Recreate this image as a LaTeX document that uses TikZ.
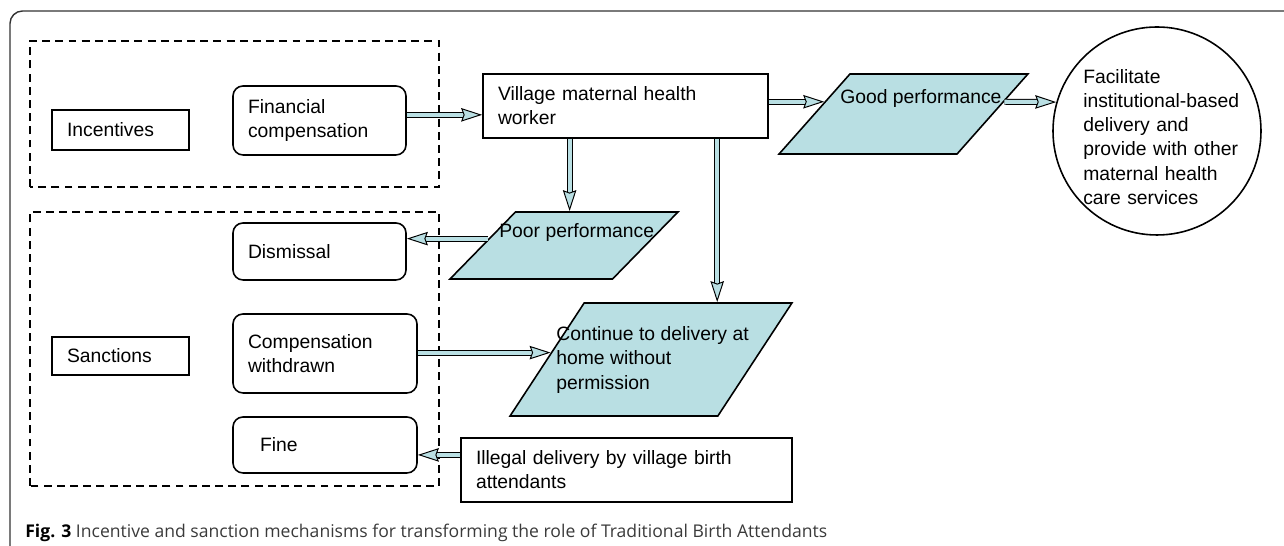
\documentclass[tikz,border=0pt]{standalone}
\usepackage{fontspec}
\setmainfont{Liberation Sans}
\newfontfamily\capfont{Open Sans}
\usetikzlibrary{arrows.meta,positioning,shapes.geometric,calc,decorations.markings}
\definecolor{pb}{HTML}{B9DFE3}
\definecolor{fr}{HTML}{333333}
\definecolor{cg}{HTML}{3A3A3A}

\begin{document}
\begin{tikzpicture}[
  box/.style={draw, line width=0.9pt, inner xsep=0.3cm, inner ysep=0pt, align=left, font=\fontsize{11}{13.7}\selectfont},
  rbox/.style={box, rounded corners=0.2cm},
  para/.style={trapezium, draw, fill=pb, line width=0.9pt, trapezium stretches=true, inner sep=2pt},
  txt/.style={align=left, inner sep=0pt, font=\fontsize{11}{13.7}\selectfont},
  fat/.style={line width=0.55pt, double=pb, double distance=2.3pt, shorten >=0.34cm,
    postaction={decorate, decoration={markings, mark=at position -0.05pt with {\arrow{Stealth[length=0.42cm, width=0.27cm, inset=0.05cm, line width=0.55pt, color=black, fill=pb]}}}}},
  grp/.style={draw, line width=0.9pt, dash pattern=on 4.5pt off 3pt}
]
\useasboundingbox (0,0) rectangle (25.68,10.92);
\draw[fr, line width=0.8pt, rounded corners=0.25cm] (0.2,0) -- (0.2,10.70) -- (25.68,10.70);

% groups
\draw[grp] (0.6,7.18) rectangle (8.78,10.10);
\draw[grp] (0.6,1.2) rectangle (8.78,6.68);

% incentives side
\node[box, text width=2.14cm, minimum height=0.8cm] (inc) at (2.41,8.32) {Incentives};
\node[rbox, text width=2.86cm, minimum height=1.38cm] (fin) at (6.39,8.51) {Financial\\compensation};
\node[box, text width=5.10cm, minimum height=1.28cm] (vill) at (12.51,8.80) {Village maternal health\\worker};

% good path
\node[para, trapezium left angle=56.5, trapezium right angle=123.5, minimum width=4.98cm, minimum height=1.6cm] (good) at (18.07,8.64) {};
\node[txt, anchor=west] (goodtxt) at (16.8,8.94) {Good performance};
\node[circle, draw, line width=0.9pt, minimum size=4.16cm, inner sep=0pt] (circ) at (23.14,8.30) {};
\node[txt, text width=3.15cm] (circtxt) at (23.24,8.18) {Facilitate\\institutional-based\\delivery and\\provide with other\\maternal health\\care services};

% poor path
\node[para, trapezium left angle=56, trapezium right angle=124, minimum width=4.56cm, minimum height=1.34cm] (poor) at (11.28,6.01) {};
\node[txt, anchor=west] (poortxt) at (9.98,6.26) {Poor performance};
\node[para, trapezium left angle=61, trapezium right angle=119, minimum width=5.64cm, minimum height=2.26cm] (cont) at (13.02,3.73) {};
\node[txt, anchor=west] (conttxt) at (11.12,3.72) {Continue to delivery at\\home without\\permission};
\node[box, text width=6.02cm, minimum height=1.28cm] (ill) at (12.53,1.52) {Illegal delivery by village birth\\attendants};

% sanctions side
\node[rbox, text width=2.86cm, minimum height=1.14cm] (dis) at (6.39,5.89) {Dismissal};
\node[box, text width=2.14cm, minimum height=0.76cm] (san) at (2.41,3.80) {Sanctions};
\node[rbox, text width=3.08cm, minimum height=1.58cm] (comp) at (6.50,3.85) {Compensation\\withdrawn};
\node[rbox, inner xsep=0.54cm, text width=2.60cm, minimum height=1.12cm] (fine) at (6.50,2.02) {Fine};

% arrows
\coordinate (f1) at ($(fin.north east)!0.42!(fin.south east)$);
\draw[fat] (f1) -- (f1 -| vill.west);
\coordinate (g1) at ($(good.bottom left corner)!0.65!(good.top left corner)$);
\draw[fat] (vill.east |- g1) -- (g1);
\coordinate (g2) at ($(good.bottom right corner)!0.65!(good.top right corner)$);
\draw[fat] (g2) -- (circ.164);
\coordinate (v1) at ($(vill.south west)!0.305!(vill.south east)$);
\draw[fat] (v1) -- (v1 |- poor.top side);
\coordinate (v2) at ($(vill.south west)!0.82!(vill.south east)$);
\draw[fat] (v2) -- (v2 |- cont.top side);
\coordinate (p1) at ($(poor.bottom left corner)!0.6!(poor.top left corner)$);
\draw[fat] (p1) -- (p1 -| dis.east);
\coordinate (c1) at ($(cont.bottom left corner)!0.56!(cont.top left corner)$);
\draw[fat] (comp.east |- c1) -- (c1);
\coordinate (i1) at ($(ill.north west)!0.27!(ill.south west)$);
\draw[fat] (i1) -- (i1 -| fine.east);

% caption
\node[anchor=base west, inner sep=0pt, font=\capfont\fontsize{10}{12}\selectfont] (cap) at (0.5,0.16) {\textbf{Fig. 3} \textcolor{cg}{Incentive and sanction mechanisms for transforming the role of Traditional Birth Attendants}};
\end{tikzpicture}
\end{document}
